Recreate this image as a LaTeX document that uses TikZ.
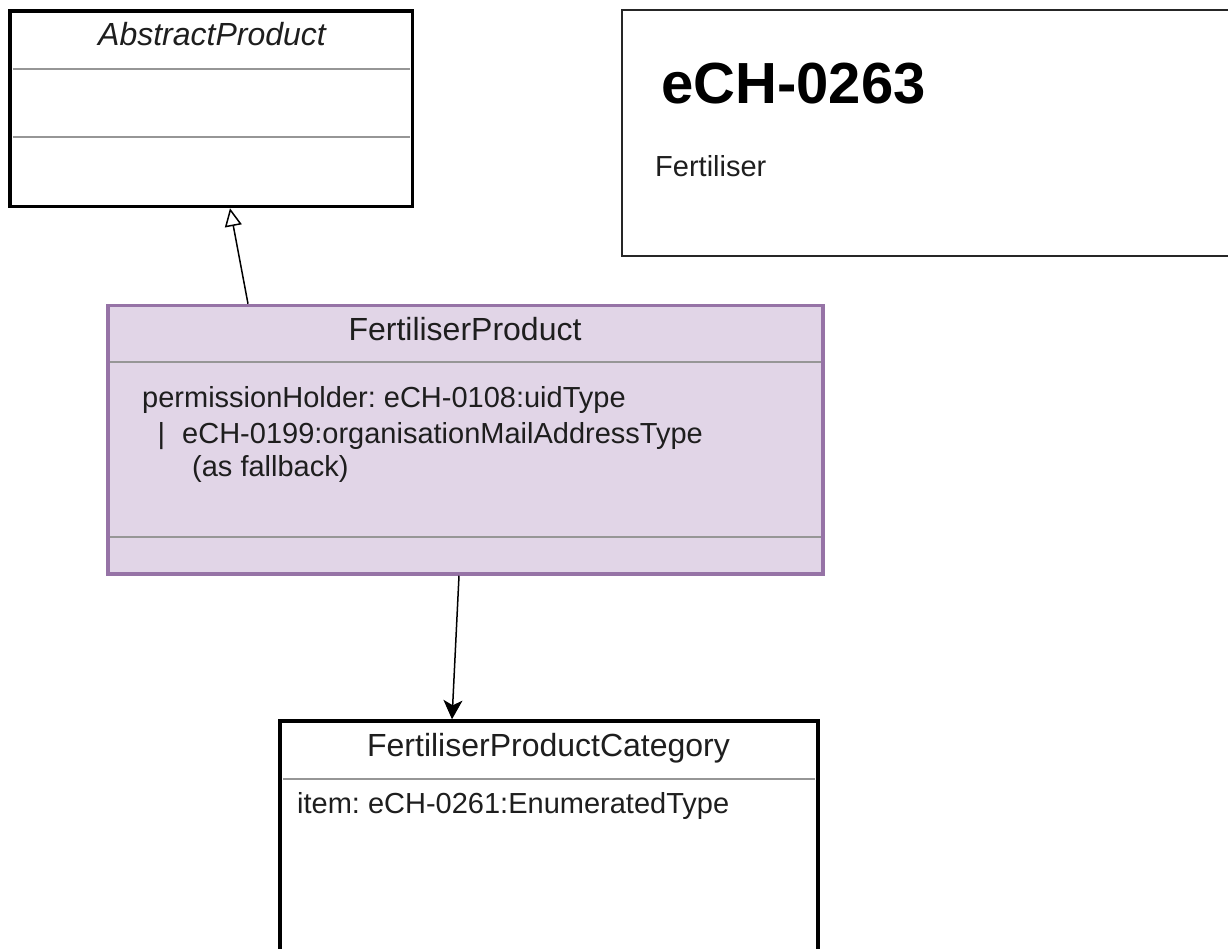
\documentclass[tikz,border=0pt]{standalone}
\usepackage{fontspec}
\setmainfont{Liberation Sans}
\usetikzlibrary{arrows.meta}
\definecolor{fpfill}{HTML}{E1D5E7}
\definecolor{fpstroke}{HTML}{9673A6}
\definecolor{divgray}{RGB}{150,150,150}
\definecolor{txt}{RGB}{30,30,30}
\tikzset{
  umlbox/.style={draw=black, line width=3.5pt, rectangle, inner sep=0pt, fill=white},
  purplebox/.style={draw=fpstroke, line width=3.5pt, rectangle, inner sep=0pt, fill=fpfill},
  notebox/.style={draw=black!85, line width=2pt, rectangle, inner sep=0pt, fill=white},
  divider/.style={draw=divgray, line width=1.6pt},
  titletext/.style={inner sep=0pt, anchor=base, text=txt, font=\fontsize{32}{38}\selectfont},
  attrtext/.style={inner sep=0pt, anchor=base west, text=txt, font=\fontsize{29}{34.5}\selectfont},
  genarrow/.style={draw=black, line width=1.5pt, -{Triangle[open, length=18pt, width=17pt, line width=1.5pt]}},
  assocarrow/.style={draw=black, line width=1.5pt, -{Stealth[length=19pt, width=19pt, inset=5pt]}}
}
\begin{document}
\frenchspacing
\begin{tikzpicture}[x=1pt, y=-1pt]
\useasboundingbox (0,0) rectangle (1228,949);
\clip (0,0) rectangle (1228,949);
\fill[white] (0,0) rectangle (1228,949);

% AbstractProduct
\node[umlbox, minimum width=402.5pt, minimum height=195.5pt] (ap) at (211.25,108.75) {};
\draw[divider] (12.5,69) -- (410,69);
\draw[divider] (12.5,137) -- (410,137);
\node[titletext, font=\fontsize{32}{38}\selectfont\itshape] (aptitle) at (212,46) {AbstractProduct};

% Note eCH-0263
\node[notebox, minimum width=678pt, minimum height=246pt] (note) at (961,133) {};
\node[inner sep=0pt, anchor=base west, text=black, font=\fontsize{58}{66}\selectfont\bfseries] (notetitle) at (661,104) {eCH-0263};
\node[attrtext] (notesub) at (655,177) {Fertiliser};

% FertiliserProduct
\node[purplebox, minimum width=715pt, minimum height=268.5pt] (fp) at (465.5,439.75) {};
\draw[divider] (110,362) -- (821,362);
\draw[divider] (110,537) -- (821,537);
\node[titletext] (fptitle) at (465,341) {FertiliserProduct};
\node[attrtext] (fpa1) at (142,407) {permissionHolder: eCH-0108:uidType};
\node[attrtext] (fpa2) at (157.5,443) {|\hspace{17pt}eCH-0199:organisationMailAddressType};
\node[attrtext] (fpa3) at (192,476) {(as fallback)};

% FertiliserProductCategory
\node[umlbox, minimum width=538pt, minimum height=279pt] (fpc) at (549,860.5) {};
\draw[divider] (283,779) -- (815,779);
\node[titletext] (fpctitle) at (548.5,756) {FertiliserProductCategory};
\node[attrtext] (fpca1) at (297,813) {item: eCH-0261:EnumeratedType};

% connectors
\draw[genarrow] (248,0 |- fp.north) -- (230,0 |- ap.south);
\draw[assocarrow] (459,0 |- fp.south) -- (452,0 |- fpc.north);
\end{tikzpicture}
\end{document}
